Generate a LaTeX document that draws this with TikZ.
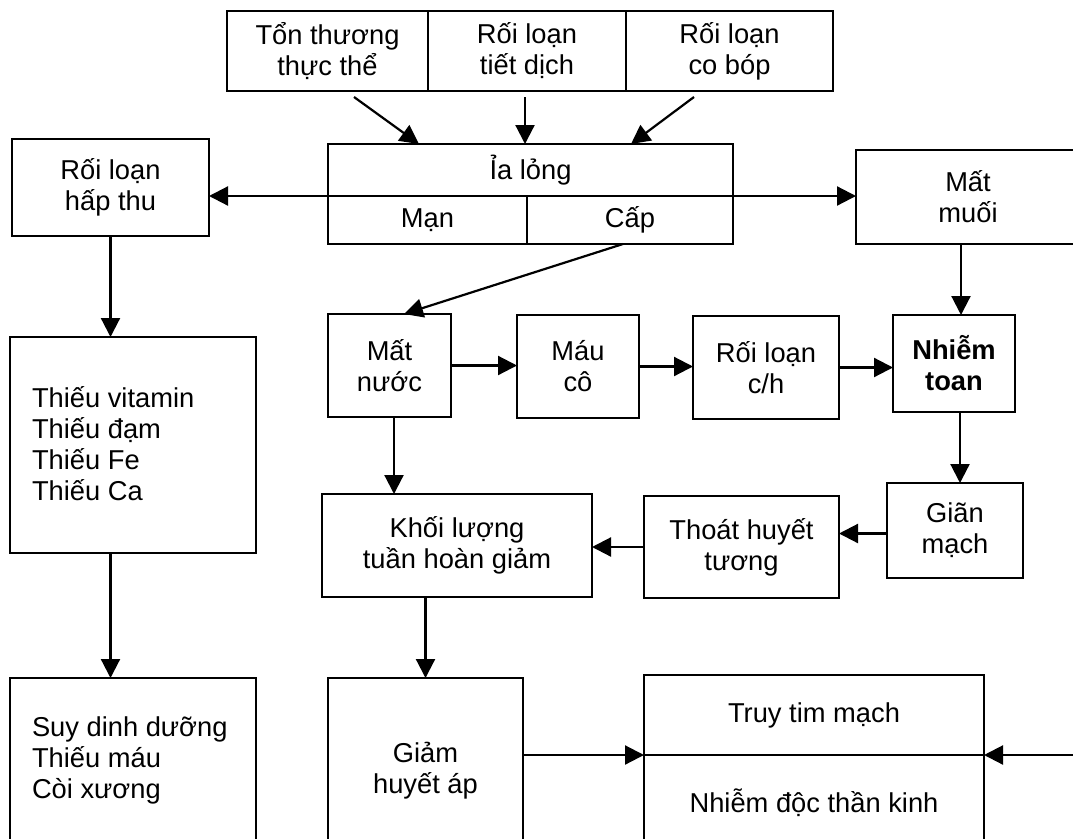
\documentclass[tikz,border=0pt]{standalone}
\usepackage{fontspec}
\setmainfont{Liberation Sans}
\usetikzlibrary{arrows.meta,calc}
\begin{document}
\begin{tikzpicture}[x=1pt,y=-1pt,
  box/.style={draw, line width=2.2pt, inner sep=0pt, outer sep=0pt, align=center,
    font=\fontsize{27.3}{31}\selectfont},
  txt/.style={inner sep=0pt, outer sep=0pt, align=left, anchor=west,
    font=\fontsize{27.3}{31}\selectfont},
  flow/.style={line width=2.2pt, -{Triangle[length=19pt,width=19pt]}}]
\useasboundingbox (0,0) rectangle (1073,838);
\clip (0,0) rectangle (1073,838);
\fill[white] (0,0) rectangle (1073,838);

% causes
\node[box, minimum width=201pt, minimum height=80pt] (ton)   at (327.5,51) {Tổn thương\\thực thể};
\node[box, minimum width=198pt, minimum height=80pt] (tiet)  at (527,51)   {Rối loạn\\tiết dịch};
\node[box, minimum width=207pt, minimum height=80pt] (cobop) at (729.5,51) {Rối loạn\\co bóp};

% diarrhoea box with its two kinds
\node[box, minimum width=405pt, minimum height=52pt] (ia)  at (530.5,170) {Ỉa lỏng};
\node[box, minimum width=199pt, minimum height=48pt] (man) at (427.5,220) {Mạn};
\node[box, minimum width=206pt, minimum height=48pt] (cap) at (630,220)   {Cấp};

% left branch
\node[box, minimum width=197pt, minimum height=97pt]  (hap)   at (110.5,187.5) {Rối loạn\\hấp thu};
\node[box, minimum width=246pt, minimum height=216pt] (thieu) at (133,445) {};
\node[txt] (thieutxt) at (32,444) {Thiếu vitamin\\Thiếu đạm\\Thiếu Fe\\Thiếu Ca};
\node[box, minimum width=246pt, minimum height=164pt] (suy) at (133,760) {};
\node[txt] (suytxt) at (32,760) {Suy dinh dưỡng\\Thiếu máu\\Còi xương};

% right branch
\node[box, minimum width=224pt, minimum height=94pt] (muoi) at (968,197) {Mất\\muối};

% middle chain
\node[box, minimum width=123pt, minimum height=103pt] (matnuoc) at (389.5,365.5) {Mất\\nước};
\node[box, minimum width=122pt, minimum height=103pt] (mau)     at (578,366.5)   {Máu\\cô};
\node[box, minimum width=146pt, minimum height=103pt] (rlch)    at (766,367.5)   {Rối loạn\\c/h};
\node[box, minimum width=122pt, minimum height=97pt, font=\fontsize{27.3}{31}\selectfont\bfseries] (nhiem) at (954,363.5) {Nhiễm\\toan};
\node[box, minimum width=136pt, minimum height=95pt]  (gian)  at (955,530.5) {Giãn\\mạch};
\node[box, minimum width=195pt, minimum height=102pt] (thoat) at (741.5,547) {Thoát huyết\\tương};
\node[box, minimum width=270pt, minimum height=103pt] (khoi)  at (457,545.5) {Khối lượng\\tuần hoàn giảm};

% outcomes
\node[box, minimum width=195pt, minimum height=186pt] (giam) at (425.5,771) {Giảm\\huyết áp};
\node[box, minimum width=340pt, minimum height=80pt]  (truy) at (814,715) {Truy tim mạch};
\node[box, minimum width=340pt, minimum height=96pt]  (nhiemdoc) at (814,803) {Nhiễm độc thần kinh};

% free ends and attachment points
\coordinate (s1) at (354,97);
\coordinate (s2) at (525,97);
\coordinate (s3) at (694,97);
\coordinate (rin) at (1085,755);
\coordinate (e1) at ($(ia.north west)+(91,0)$);
\coordinate (e2) at ($(ia.north west)+(197,0)$);
\coordinate (e3) at ($(ia.north west)+(303,0)$);
\coordinate (capout) at ($(cap.south)+(-7,0)$);
\coordinate (nuocin) at ($(matnuoc.north)+(14.5,0)$);
\coordinate (nuocout) at ($(matnuoc.south)+(4.5,0)$);
\coordinate (nhin) at ($(nhiem.north)+(7,0)$);
\coordinate (nhout) at ($(nhiem.south)+(6,0)$);
\coordinate (gianout) at ($(gian.west)+(0,3)$);

% connectors
\draw[flow] (s1) -- (e1);
\draw[flow] (s2) -- (e2);
\draw[flow] (s3) -- (e3);

\draw[flow] (man.north west) -- (man.north west -| hap.east);
\draw[flow] (cap.north east) -- (cap.north east -| muoi.west);

\draw[flow] (hap.south) -- (hap.south |- thieu.north);
\draw[flow] (hap.south |- thieu.south) -- (hap.south |- suy.north);

\draw[flow] (capout) -- (nuocin);

\draw[flow] (matnuoc.east) -- (matnuoc.east -| mau.west);
\draw[flow] (mau.east) -- (mau.east -| rlch.west);
\draw[flow] (rlch.east) -- (rlch.east -| nhiem.west);

\draw[flow] (nhin |- muoi.south) -- (nhin);
\draw[flow] (nhout) -- (nhout |- gian.north);
\draw[flow] (gianout) -- (gianout -| thoat.east);
\draw[flow] (thoat.west) -- (thoat.west -| khoi.east);

\draw[flow] (nuocout) -- (nuocout |- khoi.north);
\draw[flow] (giam.north |- khoi.south) -- (giam.north);

\draw[flow] (giam.east |- nhiemdoc.north west) -- (nhiemdoc.north west);
\draw[flow] (rin) -- (nhiemdoc.north east);
\end{tikzpicture}
\end{document}
